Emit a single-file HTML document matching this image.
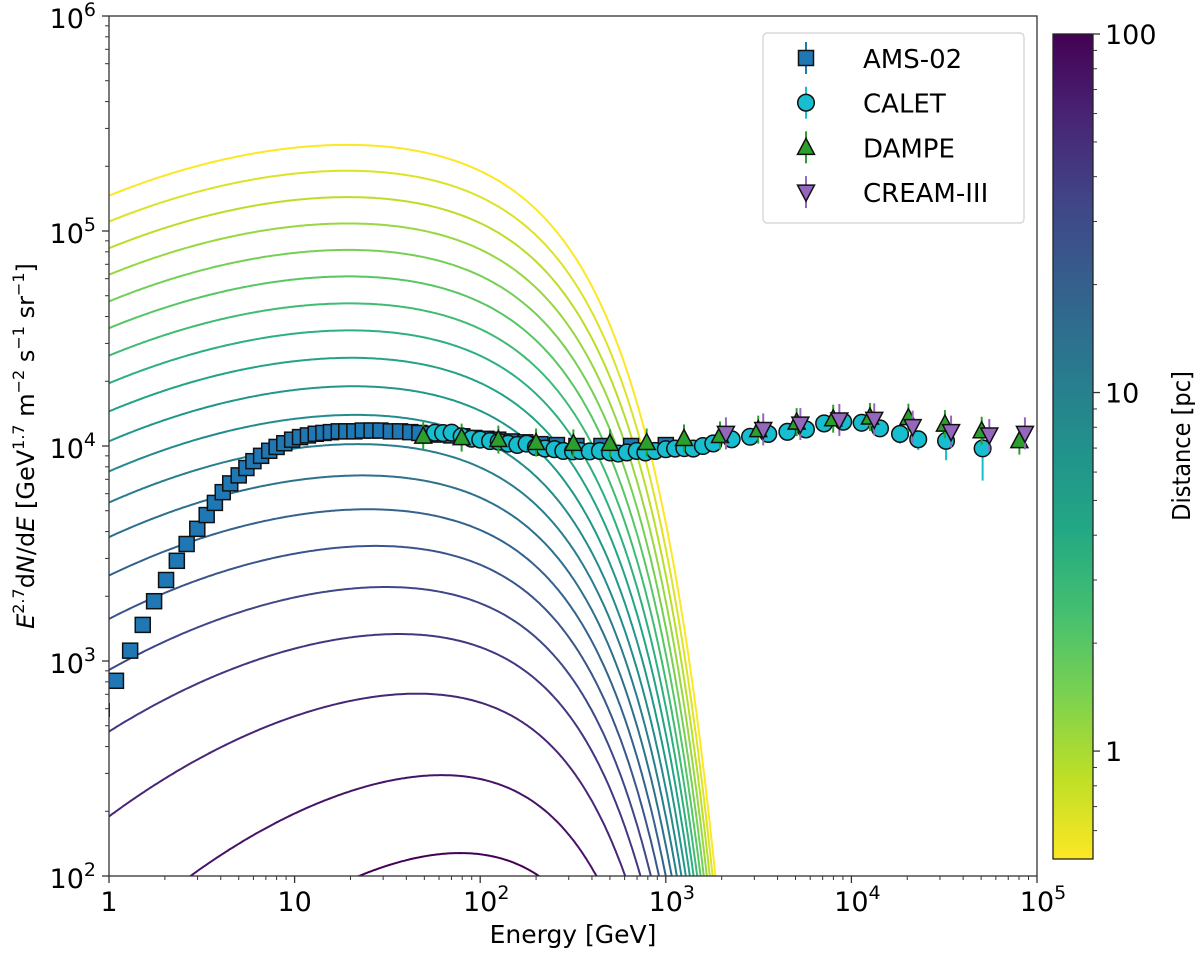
<!DOCTYPE html>
<html><head><meta charset="utf-8"><style>
html,body{margin:0;padding:0;background:#fff;}
svg{display:block;font-family:"DejaVu Sans","Liberation Sans",sans-serif;}
</style></head><body>
<svg id="chart" width="1200" height="955" viewBox="0 0 1200 955" xmlns="http://www.w3.org/2000/svg">
<defs>
<clipPath id="plotclip"><rect x="109" y="16" width="928" height="860"/></clipPath>
<linearGradient id="cbgrad" x1="0" y1="1" x2="0" y2="0">
<stop offset="0" stop-color="#fde725"/><stop offset="0.1" stop-color="#bddf26"/><stop offset="0.2" stop-color="#7ad151"/><stop offset="0.3" stop-color="#44bf70"/><stop offset="0.4" stop-color="#22a884"/><stop offset="0.5" stop-color="#21918c"/><stop offset="0.6" stop-color="#2a788e"/><stop offset="0.7" stop-color="#355f8d"/><stop offset="0.8" stop-color="#414487"/><stop offset="0.9" stop-color="#482475"/><stop offset="1" stop-color="#440154"/>
</linearGradient>
</defs>
<g id="curves" clip-path="url(#plotclip)"></g>
<g id="points" clip-path="url(#plotclip)"></g>
<rect x="109" y="16" width="928" height="860" fill="none" stroke="#333" stroke-width="1.3"/>
<g id="axes"></g>
<g id="legend"></g>
<g id="cbar"></g>
<text x="573" y="943" font-size="25" text-anchor="middle">Energy [GeV]</text>
<text transform="translate(34,446) rotate(-90)" font-size="24" text-anchor="middle"><tspan font-style="italic">E</tspan><tspan font-size="16" dy="-10">2.7</tspan><tspan dy="10">d</tspan><tspan font-style="italic">N</tspan><tspan>/d</tspan><tspan font-style="italic">E</tspan><tspan> [GeV</tspan><tspan font-size="16" dy="-10">1.7</tspan><tspan dy="10"> m</tspan><tspan font-size="16" dy="-10">−2</tspan><tspan dy="10"> s</tspan><tspan font-size="16" dy="-10">−1</tspan><tspan dy="10"> sr</tspan><tspan font-size="16" dy="-10">−1</tspan><tspan dy="10">]</tspan></text>
<text transform="translate(1190,446) rotate(-90)" font-size="25" text-anchor="middle" font-family="DejaVu Sans Condensed, DejaVu Sans, sans-serif">Distance [pc]</text>
</svg>
<script>
// ---- data ----
const curveDistances = [0.5,0.66,0.87,1.15,1.52,2.01,2.66,3.51,4.64,6.13,8.1,10.7,14.1,18.7,24.7,32.6,43.1,56.8,75.1,100];
const curveDeficit1 = [0,0,0.004,0.006,0.009,0.012,0.018,0.026,0.036,0.054,0.073,0.097,0.138,0.194,0.275,0.392,0.557,0.832,1.3,1.75];
const amsE = [1.09,1.30,1.52,1.75,2.03,2.32,2.62,2.99,3.36,3.72,4.1,4.5,5.0,5.5,6.0,6.6,7.3,8.0,8.8,9.7,10.7,11.8,13.0,14.3,15.7,17.3,19.0,21.0,23.3,26,29,33,37,42,47,54,61,70,80,93,108,125,148,175,211,259,330,450,650,1000];
const amsF = [809,1117,1472,1897,2381,2924,3501,4119,4772,5437,6100,6700,7300,7900,8500,9000,9500,9900,10300,10700,11000,11200,11400,11500,11600,11700,11700,11700,11800,11800,11800,11700,11700,11600,11500,11400,11300,11200,11100,10900,10800,10700,10500,10400,10200,10100,10000,10000,10000,10100];
const caletLogE = [1.756,1.80,1.846,1.90,1.954,2.0,2.053,2.10,2.151,2.20,2.250,2.30,2.349,2.40,2.448,2.50,2.538,2.59,2.645,2.70,2.744,2.79,2.843,2.89,2.942,3.0,3.05,3.1,3.148,3.2,3.256,3.355,3.454,3.552,3.655,3.755,3.853,3.956,4.055,4.154,4.262,4.36,4.51,4.707];
const caletLogF = [4.062,4.060,4.062,4.045,4.034,4.03,4.023,4.02,4.011,4.005,4.011,3.995,3.988,3.985,3.977,3.975,3.977,3.975,3.977,3.97,3.965,3.97,3.977,3.97,3.977,3.985,3.988,3.99,3.988,4.0,4.012,4.031,4.043,4.056,4.066,4.077,4.105,4.113,4.108,4.082,4.056,4.031,4.024,3.989];
const caletErr = [0.01,0.01,0.01,0.01,0.01,0.01,0.01,0.01,0.01,0.01,0.01,0.01,0.01,0.01,0.01,0.01,0.01,0.01,0.01,0.01,0.01,0.01,0.01,0.01,0.01,0.01,0.01,0.01,0.01,0.015,0.015,0.015,0.015,0.02,0.02,0.025,0.03,0.03,0.035,0.04,0.045,0.05,0.09,0.15];
const dampeLogE = [1.693,1.900,2.098,2.301,2.502,2.699,2.897,3.098,3.292,3.498,3.705,3.902,4.1,4.307,4.504,4.702,4.905];
const dampeLogF = [4.046,4.039,4.030,4.016,4.012,4.012,4.016,4.035,4.049,4.076,4.111,4.127,4.135,4.132,4.102,4.071,4.025];
const creamLogE = [3.324,3.525,3.725,3.935,4.123,4.330,4.537,4.743,4.935];
const creamLogF = [4.059,4.077,4.102,4.121,4.124,4.090,4.067,4.051,4.059];
const xTickLabels = ["1","10","10|2","10|3","10|4","10|5"];
const yTickLabels = ["10|2","10|3","10|4","10|5","10|6"];
const cbTickLabels = ["1","10","100"];

// ---- scales ----
const X0=109, X1=1037, Y0=876, Y1=16;
const xs = le => X0 + (le-0)/5*(X1-X0);
const ys = lf => Y0 - (lf-2)/4*(Y0-Y1);
const CB_T=34, CB_B=859, CB_MIN=Math.log10(0.5), CB_MAX=2;
const cbs = ld => CB_B - (ld-CB_MIN)/(CB_MAX-CB_MIN)*(CB_B-CB_T);
const NS="http://www.w3.org/2000/svg";
function mk(tag, attrs, parent){const e=document.createElementNS(NS,tag);for(const k in attrs)e.setAttribute(k,attrs[k]);parent.appendChild(e);return e;}
const vir=[[68,1,84],[72,36,117],[65,68,135],[53,95,141],[42,120,142],[33,145,140],[34,168,132],[68,191,112],[122,209,81],[189,223,38],[253,231,37]];
function viridis(t){t=Math.max(0,Math.min(1,t));const p=t*10,i=Math.min(9,Math.floor(p)),f=p-i;const a=vir[i],b=vir[i+1];return `rgb(${a.map((v,k)=>Math.round(v+(b[k]-v)*f)).join(",")})`;}

// ---- model curves ----
const curvesG=document.getElementById('curves');
curveDistances.forEach((d,i)=>{
  const lin = 5.165 - Math.log10(d/0.5);
  const G = curveDeficit1[i];
  let pts=[];
  for(let le=0; le<=3.45; le+=0.01){
    const E=Math.pow(10,le);
    const P=0.35*le-0.12*le*le;
    const c=5.3e-4*Math.pow(E,1.15);
    const lf = lin + P - G*Math.pow(E,-0.15) - c;
    pts.push(xs(le).toFixed(1)+","+ys(Math.max(lf,1.5)).toFixed(1));
    if(lf<1.5 && le>2.5)break;
  }
  const t=(Math.log10(d)-CB_MIN)/(CB_MAX-CB_MIN);
  const pl=mk('polyline',{points:pts.join(" "),fill:"none",stroke:viridis(1-t),"stroke-width":2},curvesG);
  
  
});

// ---- data markers ----
const ptsG=document.getElementById('points');
function marker(g,type,cx,cy,fill){
  let e;
  if(type==='sq') e=mk('rect',{x:cx-7.5,y:cy-7.5,width:15,height:15,fill:fill,stroke:"#111","stroke-width":1.5},g);
  else if(type==='ci') e=mk('circle',{cx:cx,cy:cy,r:8.3,fill:fill,stroke:"#111","stroke-width":1.5},g);
  else if(type==='up') e=mk('polygon',{points:`${cx},${cy-9} ${cx-8.5},${cy+7} ${cx+8.5},${cy+7}`,fill:fill,stroke:"#111","stroke-width":1.5},g);
  else e=mk('polygon',{points:`${cx},${cy+9} ${cx-8.5},${cy-7} ${cx+8.5},${cy-7}`,fill:fill,stroke:"#111","stroke-width":1.5},g);
  return e;
}
const amsG=mk('g',{},ptsG);
mk('line',{x1:109,y1:703,x2:109,y2:717,stroke:"#111","stroke-width":2},amsG);
amsE.forEach((E,i)=>{const m=marker(amsG,'sq',xs(Math.log10(E)),ys(Math.log10(amsF[i])),"#1f77b4");
  });
const calG=mk('g',{},ptsG);
caletLogE.forEach((le,i)=>{const x=xs(le),y=ys(caletLogF[i]);
  mk('line',{x1:x,y1:ys(caletLogF[i]+caletErr[i]*0.6),x2:x,y2:ys(caletLogF[i]-caletErr[i]),stroke:"#17becf","stroke-width":2},calG);
  const m=marker(calG,'ci',x,y,"#17becf");});
const dG=mk('g',{},ptsG);
dampeLogE.forEach((le,i)=>{const x=xs(le),y=ys(dampeLogF[i]);
  mk('line',{x1:x,y1:y-14,x2:x,y2:y+14,stroke:"#2ca02c","stroke-width":2},dG);
  const m=marker(dG,'up',x,y,"#2ca02c");});
const cG=mk('g',{},ptsG);
creamLogE.forEach((le,i)=>{const x=xs(le),y=ys(creamLogF[i]);
  mk('line',{x1:x,y1:y-16,x2:x,y2:y+16,stroke:"#9467bd","stroke-width":2},cG);
  const m=marker(cG,'down',x,y,"#9467bd");});

// ---- axes ----
const ax=document.getElementById('axes');
function powLabel(parent,lbl,x,y,anchor){
  const t=mk('text',{x:x,y:y,"font-size":27,"text-anchor":anchor},parent);
  const [b,e]=lbl.split("|");
  const s1=document.createElementNS(NS,'tspan');s1.textContent=b;t.appendChild(s1);
  if(e){const s2=document.createElementNS(NS,'tspan');s2.setAttribute('font-size','19');s2.setAttribute('dy','-12');s2.textContent=e;t.appendChild(s2);}
  return t;
}
for(let k=0;k<=5;k++){
  const x=xs(k);
  mk('line',{x1:x,y1:Y0,x2:x,y2:Y0+7,stroke:"#333","stroke-width":1.3},ax);
  if(k<5)for(let m=2;m<=9;m++){const xm=xs(k+Math.log10(m));mk('line',{x1:xm,y1:Y0,x2:xm,y2:Y0+4,stroke:"#333","stroke-width":1},ax);}
  const t=powLabel(ax,xTickLabels[k],x+(xTickLabels[k].includes("|")?6:0),911,"middle");
  
}
for(let k=0;k<=4;k++){
  const y=ys(k+2);
  mk('line',{x1:X0,y1:y,x2:X0-7,y2:y,stroke:"#333","stroke-width":1.3},ax);
  if(k<4)for(let m=2;m<=9;m++){const ym=ys(k+2+Math.log10(m));mk('line',{x1:X0,y1:ym,x2:X0-4,y2:ym,stroke:"#333","stroke-width":1},ax);}
  const t=powLabel(ax,yTickLabels[k],96,y+12,"end");
  
}

// ---- legend ----
const lg=document.getElementById('legend');
mk('rect',{x:763,y:33,width:261,height:190,rx:4,fill:"#fff","fill-opacity":0.85,stroke:"#d0d0d0","stroke-width":1.2},lg);
const legNames=["AMS-02","CALET","DAMPE","CREAM-III"],legTypes=['sq','ci','up','down'],legCols=["#1f77b4","#17becf","#2ca02c","#9467bd"];
legNames.forEach((n,i)=>{
  const y=58+i*44.7;
  const g=mk('g',{},lg);
  mk('line',{x1:806,y1:y-16,x2:806,y2:y+16,stroke:legCols[i],"stroke-width":2},g);
  marker(g,legTypes[i],806,y,legCols[i]);
  const t=mk('text',{x:863,y:y+10,"font-size":26},g);t.textContent=n;
});

// ---- colorbar ----
const cb=document.getElementById('cbar');
mk('rect',{x:1053,y:CB_T,width:40,height:CB_B-CB_T,fill:"url(#cbgrad)",stroke:"#222","stroke-width":1.3},cb);
[0,1,2].forEach(k=>{
  const y=cbs(k);
  mk('line',{x1:1093,y1:y,x2:1100,y2:y,stroke:"#333","stroke-width":1.3},cb);
  const t=mk('text',{x:1105,y:y+10,"font-size":27},cb);t.textContent=cbTickLabels[k];
  
});
[0.6,0.7,0.8,0.9,2,3,4,5,6,7,8,9,20,30,40,50,60,70,80,90].forEach(v=>{
  const y=cbs(Math.log10(v));mk('line',{x1:1093,y1:y,x2:1097,y2:y,stroke:"#333","stroke-width":1},cb);
});
</script>
</body></html>
